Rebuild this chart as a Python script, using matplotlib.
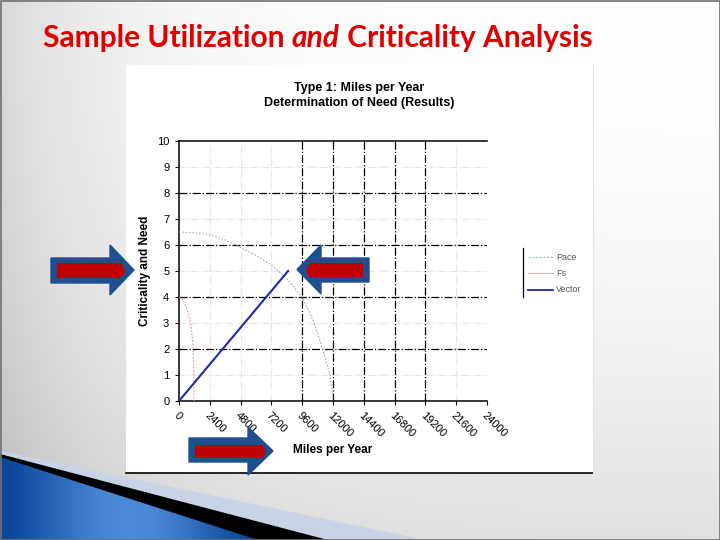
import matplotlib
matplotlib.use("Agg")
import matplotlib.pyplot as plt
from matplotlib.patches import Polygon, Rectangle
import numpy as np

# data
x_ticks = [0, 2400, 4800, 7200, 9600, 12000, 14400, 16800, 19200, 21600, 24000]
y_ticks = list(range(0, 11))

pace_x = [0, 1200, 2400, 3600, 4425, 6000, 7300, 8400, 9600, 10540, 11190, 11770, 12000]
pace_y = [6.5, 6.47, 6.4, 6.2, 6.0, 5.6, 5.2, 4.7, 4.0, 3.0, 2.0, 1.0, 0.0]

fs_x = [0, 300, 650, 910, 1080, 1150, 1170]
fs_y = [4.0, 3.9, 3.5, 3.0, 2.2, 1.2, 0.0]

vec_x = [0, 8500]
vec_y = [0, 5]

W, H = 720, 540
fig = plt.figure(figsize=(7.2, 5.4), dpi=100)

# slide background (pixel coords)
bg = fig.add_axes([0, 0, 1, 1], zorder=-10)
bg.axis('off')
gx, gy = np.meshgrid(np.arange(W), np.arange(H))
shade = 1 - 0.15 * np.exp(-gx / 130.0) - 0.12 * (gy / H) ** 2
shade = np.clip(shade, 0, 1)
bg.imshow(np.dstack([shade] * 3), extent=(0, W, H, 0), aspect='auto', zorder=0)
bg.set_xlim(0, W)
bg.set_ylim(H, 0)
bg.add_patch(Rectangle((0.5, 0.5), W - 1, H - 1, fill=False, ec='#707070', lw=1.2, zorder=5))

# bottom-left wedge
bg.add_patch(Polygon([(0, 451), (425, 540), (0, 540)], closed=True, fc='#c9d3e6', ec='none', zorder=1))
bg.add_patch(Polygon([(0, 454), (328, 540), (0, 540)], closed=True, fc='black', ec='none', zorder=1))
wedge = Polygon([(0, 457), (258, 540), (0, 540)], closed=True, fc='none', ec='none', zorder=1)
bg.add_patch(wedge)
t = np.linspace(0, 1, 300)
blue = np.array([0.04, 0.27, 0.60]) + np.outer(np.sin(np.pi * t) ** 1.5, [0.26, 0.27, 0.24])
img = bg.imshow(blue[None, :, :], extent=(0, 258, 540, 455), aspect='auto', zorder=2)
img.set_clip_path(wedge)
bg.set_xlim(0, W)
bg.set_ylim(H, 0)

# chart picture panel
bg.add_patch(Rectangle((126, 65), 467, 408, fc='white', ec='none', zorder=3))
bg.plot([126, 593], [473, 473], color='black', lw=1.2, zorder=4)
bg.plot([593, 593], [65, 473], color='#e4e4e4', lw=0.8, zorder=4)

# chart
ax = fig.add_axes([179 / W, 1 - 401 / H, 308 / W, 260 / H])
ax.set_xlim(0, 24000)
ax.set_ylim(0, 10)
for v in [2, 4, 6, 8]:
    ax.axhline(v, color='black', ls='-.', lw=0.9, zorder=1)
for v in [1, 3, 5, 7, 9]:
    ax.axhline(v, color='#e6e6e6', ls='-.', lw=0.8, zorder=0)
for v in x_ticks[1:-1]:
    if 9600 <= v <= 19200:
        ax.axvline(v, color='black', ls='-.', lw=0.9, zorder=1)
    else:
        ax.axvline(v, color='#e6e6e6', ls='-.', lw=0.8, zorder=0)

ax.plot(pace_x, pace_y, color='#9ab8b0', ls=(0, (1.5, 1.5)), lw=0.8, label='Pace', zorder=3)
ax.plot(fs_x, fs_y, color='#dc9090', ls=(0, (1.5, 1.5)), lw=0.8, label='Fs', zorder=3)
ax.plot(vec_x, vec_y, color='#2626aa', lw=1.5, label='Vector', zorder=4)

ax.spines['right'].set_visible(False)
for s in ['left', 'bottom', 'top']:
    ax.spines[s].set_linewidth(1.1)
ax.set_xticks(x_ticks)
ax.set_yticks(y_ticks)
ax.set_xticklabels([str(v) for v in x_ticks], rotation=-45, ha='left', va='top',
                   rotation_mode='anchor', fontsize=8, family='Liberation Sans')
ax.set_yticklabels([str(v) for v in y_ticks], fontsize=8, family='Liberation Sans')
ax.tick_params(length=3, width=0.8, pad=4)
ax.set_xlabel('Miles per Year', fontsize=8.5, fontweight='bold', family='Liberation Sans', labelpad=3)
ax.set_ylabel('Criticality and Need', fontsize=8.5, fontweight='bold', family='Liberation Sans', labelpad=4)

fig.text(359 / W, 1 - 88 / H, 'Type 1: Miles per Year', ha='center', va='center',
         fontsize=9, fontweight='bold', family='Liberation Sans')
fig.text(359 / W, 1 - 103 / H, 'Determination of Need (Results)', ha='center', va='center',
         fontsize=9, fontweight='bold', family='Liberation Sans')

# overlay for legend, arrows, slide title
ov = fig.add_axes([0, 0, 1, 1], zorder=5)
ov.set_xlim(0, W)
ov.set_ylim(H, 0)
ov.axis('off')
ov.patch.set_alpha(0)

ov.plot([523, 523], [248, 297], color='black', lw=0.9)
leg = [('Pace', '#9ab8b0', (0, (1.5, 1.5)), 0.9, 257), ('Fs', '#ecb8b8', '-', 0.8, 273),
       ('Vector', '#2222aa', '-', 1.3, 290)]
for name, c, ls, lw, yy in leg:
    ov.plot([528, 553], [yy, yy], color=c, ls=ls, lw=lw)
    ov.text(556, yy, name, fontsize=6.5, color='#555555', va='center', ha='left', family='Liberation Sans')


def arrow(x0, x1, xt, yb0, yb1, yh0, yh1, r_x0, r_x1, r_y0, r_y1):
    # x0 body start, x1 head base, xt tip
    ym = (yh0 + yh1) / 2
    pts = [(x0, yb0), (x1, yb0), (x1, yh0), (xt, ym), (x1, yh1), (x1, yb1), (x0, yb1)]
    ov.add_patch(Polygon(pts, closed=True, fc='#1f4f8f', ec='#1f4f8f', lw=1))
    d = 1 if xt > x0 else -1
    rp = [(r_x0, r_y0), (r_x1, r_y0), (r_x1 + d * 4, (r_y0 + r_y1) / 2), (r_x1, r_y1), (r_x0, r_y1)]
    ov.add_patch(Polygon(rp, closed=True, fc='#c00000', ec='none'))


arrow(51, 110, 134, 258, 283, 245, 295, 57, 121, 263, 278)
arrow(369, 321, 297, 258, 282, 245, 294, 363, 310, 263, 277)
arrow(189, 248, 273, 438, 462, 427, 475, 195, 262, 445, 458)

# slide title with italic word
tx = 43
for part, style in [('Sample Utilization ', 'normal'), ('and', 'italic'), (' Criticality Analysis', 'normal')]:
    tt = ov.text(tx, 38, part, color='#e00000', fontsize=21.5, fontweight='bold', style=style,
                 family='Lato', va='center', ha='left')
    fig.canvas.draw()
    tx += tt.get_window_extent().width

fig.savefig('out.png', dpi=100)
